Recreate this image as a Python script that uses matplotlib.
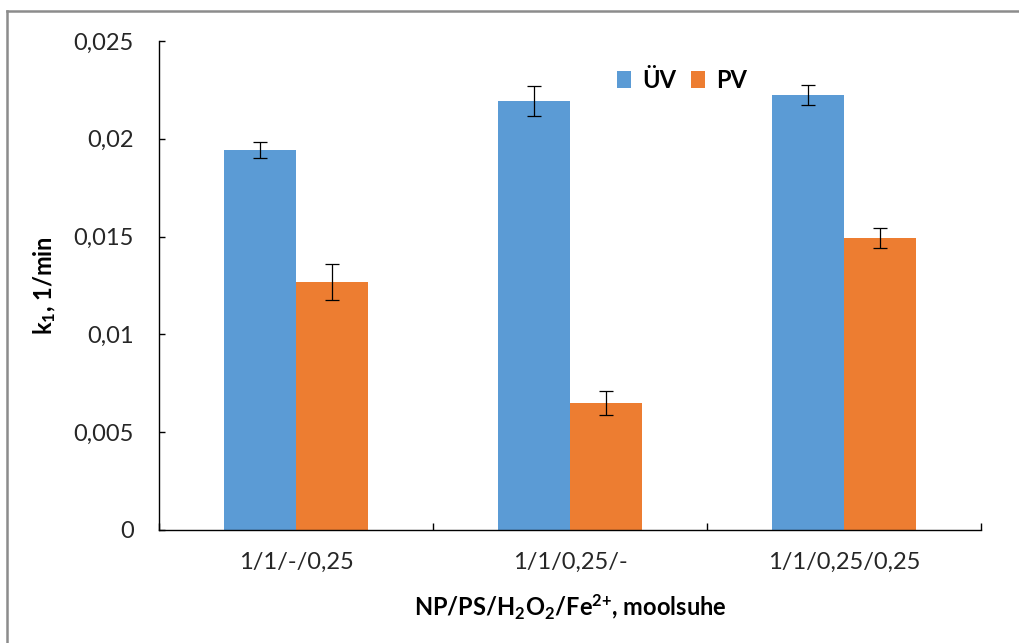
import matplotlib
matplotlib.use("Agg")
import matplotlib.pyplot as plt
from matplotlib.lines import Line2D
from matplotlib.ticker import FixedLocator, FuncFormatter
import numpy as np

categories = ["1/1/-/0,25", "1/1/0,25/-", "1/1/0,25/0,25"]
uv_values = [0.01943, 0.02193, 0.02224]
uv_errors = [0.0004, 0.00077, 0.0005]
pv_values = [0.01268, 0.00649, 0.01493]
pv_errors = [0.0009, 0.0006, 0.0005]
series_names = ["ÜV", "PV"]
yticks = [0, 0.005, 0.01, 0.015, 0.02, 0.025]
ytick_labels = ["0", "0,005", "0,01", "0,015", "0,02", "0,025"]

plt.rcParams['font.family'] = ['Lato', 'DejaVu Sans']
plt.rcParams['mathtext.fontset'] = 'custom'
plt.rcParams['mathtext.default'] = 'regular'

fig = plt.figure(figsize=(10.19, 6.43), dpi=100)
W, H = 1019, 643
ax = fig.add_axes([159 / W, 1 - 530 / H, (981 - 159) / W, (530 - 41) / H])

blue = "#5B9BD5"
orange = "#ED7D31"
x = np.arange(len(categories))
w = 0.264
ekw = dict(ecolor="black", elinewidth=0.9, capsize=4.7, capthick=0.9)
ax.bar(x - w / 2, uv_values, w, color=blue, yerr=uv_errors, error_kw=ekw, label=series_names[0])
ax.bar(x + w / 2, pv_values, w, color=orange, yerr=pv_errors, error_kw=ekw, label=series_names[1])

ax.set_xlim(-0.5, len(categories) - 0.5)
ax.set_ylim(0, 0.025)
ax.set_yticks(yticks)
ax.set_yticklabels(ytick_labels)

ax.xaxis.set_major_locator(FixedLocator(np.arange(-0.5, len(categories), 1.0)))
ax.xaxis.set_major_formatter(FuncFormatter(lambda v, p: ""))
ax.xaxis.set_minor_locator(FixedLocator(x))
ax.set_xticks(x, categories, minor=True)

for s in ["top", "right"]:
    ax.spines[s].set_visible(False)
for s in ["left", "bottom"]:
    ax.spines[s].set_linewidth(1.0)
    ax.spines[s].set_color("black")

ax.tick_params(axis="y", direction="in", length=4, width=1, labelsize=17, pad=18, labelcolor="#262626")
ax.tick_params(axis="x", which="major", direction="in", length=5, width=1)
ax.tick_params(axis="x", which="minor", length=0, labelsize=17, pad=16, labelcolor="#262626")

ax.set_ylabel(r"k$_{1}$, 1/min", fontsize=17, fontweight="bold")
ax.yaxis.set_label_coords((58 - 159) / (981 - 159), 0.5)
ax.set_xlabel(r"NP/PS/H$_{2}$O$_{2}$/Fe$^{2{+}}$, moolsuhe", fontsize=17, fontweight="bold")
ax.xaxis.set_label_coords(0.5, -(592 - 530) / (530 - 41))

leg = fig.legend(loc="center", bbox_to_anchor=(682 / W, 1 - 80 / H), ncol=2, frameon=False,
                 prop={"size": 17, "weight": "bold"}, handlelength=0.6, handleheight=0.7,
                 handletextpad=0.5, columnspacing=0.6)

# chart border (gray frame at top and left)
fig.add_artist(Line2D([7 / W, 7 / W], [0, 1 - 11 / H], color="#8c8c8c", lw=1.8, transform=fig.transFigure))
fig.add_artist(Line2D([7 / W, 1], [1 - 11 / H, 1 - 11 / H], color="#8c8c8c", lw=1.8, transform=fig.transFigure))

fig.savefig("out.png", dpi=100)
